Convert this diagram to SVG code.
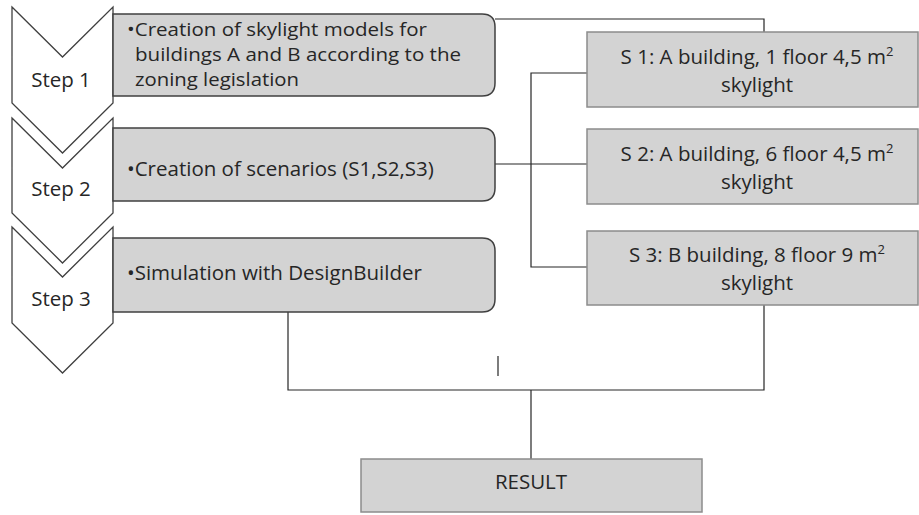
<svg xmlns="http://www.w3.org/2000/svg" width="919" height="515" viewBox="0 0 919 515">
<style>
.chev{fill:#ffffff;stroke:#404040;stroke-width:1.3}
.step{fill:#d3d3d3;stroke:#404040;stroke-width:1.5}
.scn{fill:#d3d3d3;stroke:#8c8c8c;stroke-width:1.5}
.conn{fill:none;stroke:#262626;stroke-width:1.2}
text{font-family:"Open Sans","Liberation Sans",sans-serif;fill:#262626;font-size:20.5px}
.tb{font-size:18px}
.ts{text-anchor:middle}
.sup{font-size:13px}
</style>
<rect width="919" height="515" fill="#ffffff"/>
<g id="connectors">
<path class="conn" d="M495,19 H764 V32"/>
<path class="conn" d="M495,164 H587"/>
<path class="conn" d="M587,73 H531 V267 H587"/>
<path class="conn" d="M288,312 V390 H764 V305"/>
<path class="conn" d="M531,390 V459"/>
<path class="conn" d="M498,356 V376"/>
</g>
<g id="step1-chevron"><path class="chev" d="M12,7 L62.5,57 L113,7 L113,103 L62.5,153 L12,103 Z"/><text x="61" y="87" text-anchor="middle">Step 1</text></g>
<g id="step2-chevron"><path class="chev" d="M12,118 L62.5,168 L113,118 L113,213 L62.5,263 L12,213 Z"/><text x="61" y="196" text-anchor="middle">Step 2</text></g>
<g id="step3-chevron"><path class="chev" d="M12,227 L62.5,277 L113,227 L113,323 L62.5,373 L12,323 Z"/><text x="61" y="306" text-anchor="middle">Step 3</text></g>
<g id="step1-box"><path class="step" d="M113,14 H482 Q495,14 495,27 V83 Q495,96 482,96 H113 Z"/>
<text class="tb" x="127" y="36" textLength="300" lengthAdjust="spacingAndGlyphs">•Creation of skylight models for</text>
<text class="tb" x="135" y="61" textLength="326" lengthAdjust="spacingAndGlyphs">buildings A and B according to the</text>
<text class="tb" x="135" y="86" textLength="164" lengthAdjust="spacingAndGlyphs">zoning legislation</text></g>
<g id="step2-box"><path class="step" d="M113,128 H482 Q495,128 495,141 V188 Q495,201 482,201 H113 Z"/>
<text x="127" y="176">•Creation of scenarios (S1,S2,S3)</text></g>
<g id="step3-box"><path class="step" d="M113,238 H482 Q495,238 495,251 V299 Q495,312 482,312 H113 Z"/>
<text x="127" y="280">•Simulation with DesignBuilder</text></g>
<g id="s1"><rect class="scn" x="587" y="32" width="331" height="75"/>
<text class="ts" x="757" y="64">S 1: A building, 1 floor 4,5 m<tspan class="sup" dy="-8">2</tspan></text>
<text class="ts" x="757" y="92">skylight</text></g>
<g id="s2"><rect class="scn" x="587" y="129" width="331" height="75"/>
<text class="ts" x="757" y="161">S 2: A building, 6 floor 4,5 m<tspan class="sup" dy="-8">2</tspan></text>
<text class="ts" x="757" y="189">skylight</text></g>
<g id="s3"><rect class="scn" x="587" y="231" width="331" height="74"/>
<text class="ts" x="757" y="262">S 3: B building, 8 floor 9 m<tspan class="sup" dy="-8">2</tspan></text>
<text class="ts" x="757" y="290">skylight</text></g>
<g id="result"><rect class="scn" x="361" y="459" width="341" height="53"/>
<text class="ts" x="531" y="489">RESULT</text></g>
</svg>
